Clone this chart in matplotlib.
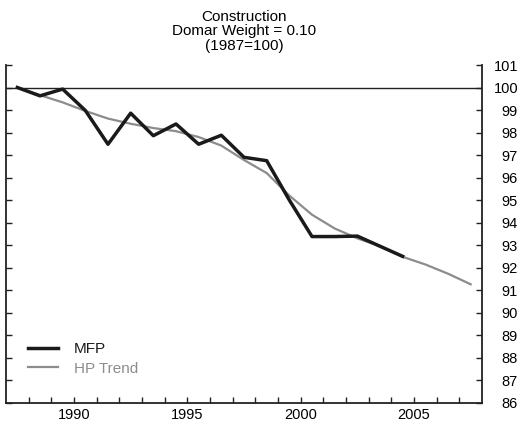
import matplotlib
matplotlib.use("Agg")
import matplotlib.pyplot as plt
import numpy as np

plt.rcParams['font.family'] = ['Liberation Sans', 'DejaVu Sans']

title = "Construction\nDomar Weight = 0.10\n(1987=100)"

mfp_years = list(range(1987, 2005))
mfp = [100.0, 99.63, 99.93, 98.98, 97.48, 98.86, 97.86, 98.38, 97.48, 97.88,
       96.9, 96.75, 95.0, 93.38, 93.38, 93.4, 92.95, 92.5]

hp_years = list(range(1987, 2008))
hp = [100.0, 99.66, 99.34, 98.96, 98.62, 98.39, 98.2, 98.06, 97.8, 97.42,
      96.78, 96.2, 95.2, 94.35, 93.74, 93.3, 92.95, 92.48, 92.14, 91.73, 91.26]

year_ticks = [1990, 1995, 2000, 2005]
minor_years = list(range(1988, 2008))
y_ticks = list(range(86, 102))

fig = plt.figure(figsize=(5.21, 4.24), dpi=100)
ax = fig.add_axes([6/521, 1 - 402.7/424, (482-6)/521, (402.7-65)/424])

# data plotted at mid-year
ax.plot(np.array(hp_years) + 0.5, hp, color='#8c8c8c', lw=1.6, label='HP Trend', zorder=2)
ax.plot(np.array(mfp_years) + 0.5, mfp, color='#1a1a1a', lw=2.5, label='MFP', zorder=3)
ax.axhline(100, color='#222222', lw=1.0, zorder=1)

ax.set_xlim(1987, 2008)
ax.set_ylim(86, 101)

ax.spines['top'].set_visible(False)
for s in ['left', 'right', 'bottom']:
    ax.spines[s].set_linewidth(1.3)
    ax.spines[s].set_color('#222222')

ax.set_xticks(year_ticks)
ax.set_xticks(minor_years, minor=True)
ax.set_xticklabels([str(y) for y in year_ticks])
ax.tick_params(axis='x', which='both', direction='in', length=4, width=1, color='#222222',
               labelsize=10.5, pad=4, top=False)

ax.set_yticks(y_ticks)
ax.tick_params(axis='y', which='both', direction='in', length=4, width=1, color='#222222',
               left=True, right=True, labelleft=False, labelright=True,
               labelsize=10.5, pad=26)
for lab in ax.get_yticklabels():
    lab.set_horizontalalignment('right')

ax.set_title(title, fontsize=11, linespacing=1.05, pad=11)

handles, labels = ax.get_legend_handles_labels()
order = [1, 0]
leg = ax.legend([handles[i] for i in order], [labels[i] for i in order],
                loc='lower left', bbox_to_anchor=(0.017, 0.039), frameon=False,
                fontsize=11, handlelength=2.0, handletextpad=1.0, labelspacing=0.35)
for txt, col in zip(leg.get_texts(), ['#1a1a1a', '#8c8c8c']):
    txt.set_color(col)

fig.savefig("out.png", dpi=100)
